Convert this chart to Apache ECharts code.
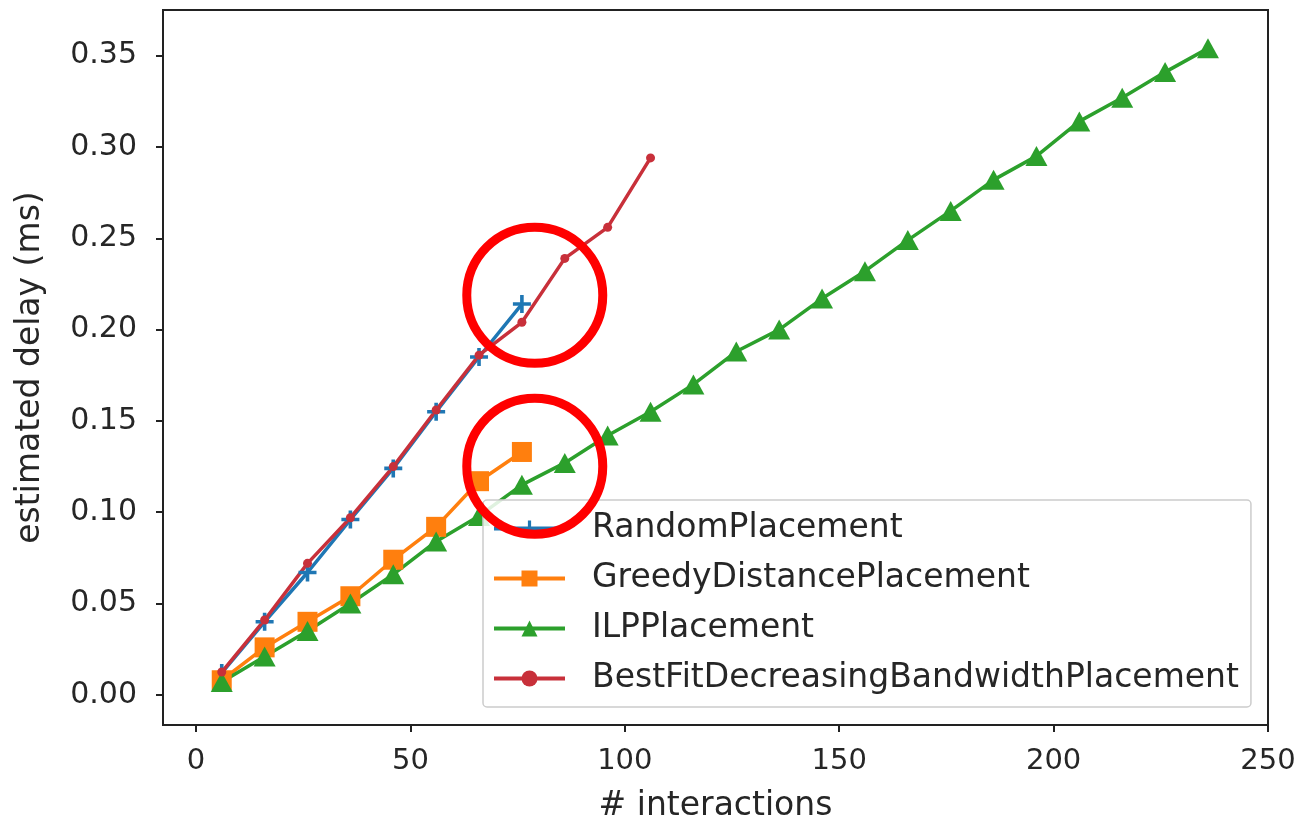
<!DOCTYPE html>
<html>
<head>
<meta charset="utf-8">
<script src="https://cdn.jsdelivr.net/npm/echarts@6/dist/echarts.min.js"></script>
<style>
html,body{margin:0;padding:0;background:#fff;}
#chart{width:1301px;height:823px;}
</style>
</head>
<body>
<div id="chart"></div>
<script>
// ---- data ----
const seriesNames = ['RandomPlacement', 'GreedyDistancePlacement', 'ILPPlacement', 'BestFitDecreasingBandwidthPlacement'];
const xRandom = [6, 16, 26, 36, 46, 56, 66, 76];
const yRandom = [0.012, 0.040, 0.067, 0.096, 0.124, 0.155, 0.185, 0.214];
const xGreedy = [6, 16, 26, 36, 46, 56, 66, 76];
const yGreedy = [0.008, 0.026, 0.040, 0.054, 0.074, 0.092, 0.117, 0.133];
const xILP = [6, 16, 26, 36, 46, 56, 66, 76, 86, 96, 106, 116, 126, 136, 146, 156, 166, 176, 186, 196, 206, 216, 226, 236];
const yILP = [0.007, 0.021, 0.035, 0.050, 0.066, 0.084, 0.098, 0.115, 0.127, 0.142, 0.155, 0.170, 0.188, 0.200, 0.217, 0.232, 0.249, 0.265, 0.282, 0.295, 0.314, 0.327, 0.341, 0.354];
const xBestFit = [6, 16, 26, 36, 46, 56, 66, 76, 86, 96, 106];
const yBestFit = [0.0125, 0.041, 0.072, 0.097, 0.125, 0.156, 0.186, 0.204, 0.239, 0.256, 0.294];
const xTicks = [0, 50, 100, 150, 200, 250];
const yTicks = [0, 0.05, 0.10, 0.15, 0.20, 0.25, 0.30, 0.35];
// red annotation circles, centred in data coordinates
const annotCenters = [[79, 0.2188], [79, 0.1252]];

const zip = (xs, ys) => xs.map((x, i) => [x, ys[i]]);
const FONT = 'DejaVu Sans';
const plusPath = 'path://M4,0 L6,0 L6,4 L10,4 L10,6 L6,6 L6,10 L4,10 L4,6 L0,6 L0,4 L4,4 Z';

const chart = echarts.init(document.getElementById('chart'), null, {renderer: 'canvas'});

const axisCommon = {
  type: 'value',
  axisLine: {show: true, onZero: false, lineStyle: {color: '#222', width: 2}},
  axisTick: {show: true, inside: false, length: 7, lineStyle: {color: '#222', width: 2}},
  splitLine: {show: false},
  nameTextStyle: {fontFamily: FONT, fontSize: 33, color: '#262626'}
};

chart.setOption({
  animation: false,
  backgroundColor: '#fff',
  grid: {left: 163, right: 33, top: 10, bottom: 98, show: true, borderColor: '#222', borderWidth: 2,
    containLabel: false, outerBoundsMode: 'none'},
  xAxis: Object.assign({}, axisCommon, {
    min: -7.7, max: 250,
    name: '# interactions', nameLocation: 'middle', nameGap: 65,
    axisTick: Object.assign({}, axisCommon.axisTick, {customValues: xTicks}),
    axisLabel: {customValues: xTicks, fontFamily: FONT, fontSize: 29, color: '#262626', margin: 22,
      formatter: v => String(v)}
  }),
  yAxis: Object.assign({}, axisCommon, {
    min: -0.0165, max: 0.375,
    name: 'estimated delay (ms)', nameLocation: 'middle', nameGap: 116,
    axisTick: Object.assign({}, axisCommon.axisTick, {customValues: yTicks}),
    axisLabel: {customValues: yTicks, fontFamily: FONT, fontSize: 30, color: '#262626', margin: 26,
      formatter: v => v.toFixed(2)}
  }),
  legend: {
    orient: 'vertical', left: 483, top: 500,
    padding: [12, 12, 12, 9],
    itemWidth: 71, itemHeight: 20, itemGap: 17,
    borderColor: '#cccccc', borderWidth: 1.5, borderRadius: 4,
    backgroundColor: 'rgba(255,255,255,0.85)',
    lineStyle: {width: 4},
    textStyle: {fontFamily: FONT, fontSize: 33, color: '#262626', lineHeight: 33, padding: [0, 0, 0, 22]},
    data: seriesNames
  },
  series: [
    {name: seriesNames[0], type: 'line', data: zip(xRandom, yRandom), color: '#1f77b4',
      symbol: plusPath, symbolSize: 18, showAllSymbol: true,
      lineStyle: {width: 3.5}, itemStyle: {color: '#1f77b4'}},
    {name: seriesNames[1], type: 'line', data: zip(xGreedy, yGreedy), color: '#ff7f0e',
      symbol: 'rect', symbolSize: 20, showAllSymbol: true,
      lineStyle: {width: 3.5}, itemStyle: {color: '#ff7f0e'}},
    {name: seriesNames[2], type: 'line', data: zip(xILP, yILP), color: '#2ca02c',
      symbol: 'triangle', symbolSize: [22, 20], showAllSymbol: true,
      lineStyle: {width: 3.5}, itemStyle: {color: '#2ca02c'}},
    {name: seriesNames[3], type: 'line', data: zip(xBestFit, yBestFit), color: '#c8303a',
      symbol: 'circle', symbolSize: 9, showAllSymbol: true,
      lineStyle: {width: 3.5}, itemStyle: {color: '#c8303a'}}
  ]
});

// annotation circles placed from data coordinates
const circles = annotCenters.map(c => {
  const p = chart.convertToPixel({gridIndex: 0}, c);
  return {type: 'circle', shape: {cx: p[0], cy: p[1], r: 68},
    style: {fill: 'none', stroke: '#ff0000', lineWidth: 9}, z: 100};
});
chart.setOption({graphic: circles});
</script>
</body>
</html>
